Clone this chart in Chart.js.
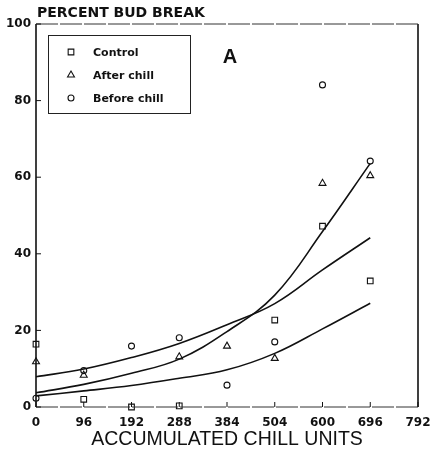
<!DOCTYPE html>
<html>
<head>
<meta charset="utf-8">
<script src="https://cdn.jsdelivr.net/npm/chart.js@4"></script>
<style>
  html, body { margin: 0; padding: 0; background: #fff; }
  #wrap { width: 431px; height: 461px; position: relative; }
</style>
</head>
<body>
<div id="wrap"><canvas id="budChart"></canvas></div>
<script>
// x positions are evenly spaced on the original axis, so data sits at index 0..7
const xLabels = ["0", "96", "192", "288", "384", "504", "600", "696", "792"];
const yTicks = [0, 20, 40, 60, 80, 100];

// observed percent bud break (null = no mark)
const control = [16.4, 2, 0, 0.3, null, 22.7, 47.2, 32.9];
const afterChill = [11.8, 8.3, null, 13.1, 15.9, 12.7, 58.4, 60.4];
const beforeChill = [2.3, 9.5, 15.9, 18.1, 5.7, 17, 84.1, 64.2];

// fitted curves
const fitSteep = [3.7, 5.9, 8.8, 12.5, 19.7, 29.2, 45.8, 63.6];
const fitUpper = [7.9, 9.9, 12.9, 16.6, 21.5, 27, 35.8, 44.2];
const fitLow = [2.9, 4.2, 5.6, 7.5, 9.7, 14, 20.4, 27.1];

function toPoints(arr) {
  const pts = [];
  arr.forEach((v, i) => {
    if (v !== null) pts.push({ x: i, y: v });
  });
  return pts;
}

function markerSet(label, arr, style, radius) {
  return {
    label: label,
    data: toPoints(arr),
    showLine: false,
    pointStyle: style,
    pointRadius: radius,
    pointBorderWidth: 1.1,
    pointBorderColor: "#111",
    pointBackgroundColor: "rgba(255,255,255,0)",
    clip: false,
  };
}

function curveSet(arr) {
  return {
    label: "",
    data: toPoints(arr),
    showLine: true,
    borderColor: "#111",
    borderWidth: 1.6,
    pointRadius: 0,
    tension: 0.4,
    clip: false,
  };
}

// frame, inside ticks, title text, legend box and panel letter
const decorations = {
  id: "decorations",
  afterDraw(chart) {
    const ctx = chart.ctx;
    const area = chart.chartArea;
    const xs = chart.scales.x;
    const ys = chart.scales.y;
    ctx.save();

    // frame
    ctx.strokeStyle = "#111";
    ctx.lineWidth = 1.6;
    ctx.beginPath();
    ctx.moveTo(area.left, area.top);
    ctx.lineTo(area.left, area.bottom);
    ctx.moveTo(area.right, area.top);
    ctx.lineTo(area.right, area.bottom);
    ctx.stroke();
    ctx.lineWidth = 1;
    ctx.strokeStyle = "#333";
    ctx.setLineDash([22, 2]);
    ctx.beginPath();
    ctx.moveTo(area.left, area.top);
    ctx.lineTo(area.right, area.top);
    ctx.moveTo(area.left, area.bottom);
    ctx.lineTo(area.right, area.bottom);
    ctx.stroke();
    ctx.setLineDash([]);

    // inside ticks
    ctx.strokeStyle = "#111";
    ctx.lineWidth = 1;
    ctx.beginPath();
    yTicks.forEach((v) => {
      const py = ys.getPixelForValue(v);
      ctx.moveTo(area.left, py);
      ctx.lineTo(area.left + 5, py);
    });
    xLabels.forEach((lab, i) => {
      const px = xs.getPixelForValue(i);
      ctx.moveTo(px, area.bottom);
      ctx.lineTo(px, area.bottom - 5);
    });
    ctx.stroke();

    // y title at top left
    ctx.fillStyle = "#111";
    ctx.font = "bold 14px 'DejaVu Sans'";
    ctx.textAlign = "left";
    ctx.textBaseline = "middle";
    ctx.fillText("PERCENT BUD BREAK", 37, 13);

    // panel letter
    ctx.font = "bold 20px 'Liberation Sans'";
    ctx.textAlign = "center";
    ctx.fillText("A", 230, 57);

    // legend box
    ctx.lineWidth = 1;
    ctx.strokeStyle = "#222";
    ctx.strokeRect(48.5, 35.5, 142, 78);
    const rows = [
      { text: "Control", style: "rect", r: 4 },
      { text: "After chill", style: "triangle", r: 4 },
      { text: "Before chill", style: "circle", r: 3 },
    ];
    ctx.font = "bold 11px 'DejaVu Sans'";
    ctx.textAlign = "left";
    rows.forEach((row, k) => {
      const y = 52 + k * 23;
      ctx.lineWidth = 1.1;
      ctx.strokeStyle = "#111";
      ctx.fillStyle = "rgba(255,255,255,0)";
      Chart.helpers.drawPoint(ctx, { pointStyle: row.style, radius: row.r, borderWidth: 1.1 }, 71, y);
      ctx.fillStyle = "#111";
      ctx.fillText(row.text, 93, y + 1);
    });

    ctx.restore();
  },
};

document.addEventListener("DOMContentLoaded", function () {
  const ctx = document.getElementById("budChart");
  new Chart(ctx, {
    type: "scatter",
    data: {
      datasets: [
        curveSet(fitSteep),
        curveSet(fitUpper),
        curveSet(fitLow),
        markerSet("Control", control, "rect", 4),
        markerSet("After chill", afterChill, "triangle", 4),
        markerSet("Before chill", beforeChill, "circle", 3),
      ],
    },
    options: {
      responsive: true,
      maintainAspectRatio: false,
      animation: false,
      layout: {
        padding: { left: 0, top: 24, right: 0, bottom: 0 },
      },
      plugins: {
        legend: { display: false },
        tooltip: { enabled: false },
      },
      scales: {
        x: {
          type: "linear",
          min: 0,
          max: 8,
          afterFit(scale) {
            scale.height = 54;
            scale.paddingLeft = 0;
            scale.paddingRight = 13;
          },
          afterBuildTicks(scale) {
            scale.ticks = xLabels.map((lab, i) => ({ value: i }));
          },
          ticks: {
            padding: 9,
            color: "#111",
            font: { family: "'DejaVu Sans'", weight: "bold", size: 12 },
            callback: (v) => xLabels[v],
          },
          grid: { display: false, drawTicks: false },
          border: { display: false },
          title: {
            display: true,
            text: "ACCUMULATED CHILL UNITS",
            color: "#111",
            font: { family: "'Liberation Sans'", size: 19.5 },
            padding: { top: 0, bottom: 10 },
          },
        },
        y: {
          min: 0,
          max: 100,
          afterFit(scale) {
            scale.width = 36;
          },
          afterBuildTicks(scale) {
            scale.ticks = yTicks.map((v) => ({ value: v }));
          },
          ticks: {
            padding: 5,
            color: "#111",
            font: { family: "'DejaVu Sans'", weight: "bold", size: 12 },
          },
          grid: { display: false, drawTicks: false },
          border: { display: false },
        },
      },
    },
    plugins: [decorations],
  });
});
</script>
</body>
</html>
